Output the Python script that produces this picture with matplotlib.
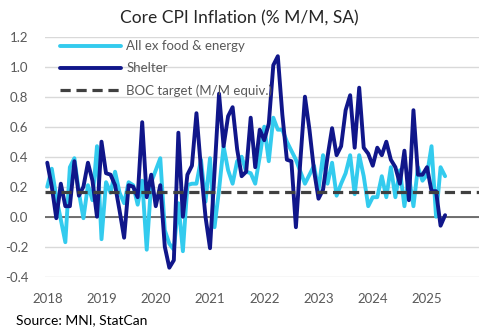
import numpy as np
import pandas as pd
import matplotlib
matplotlib.use("Agg")
import matplotlib.pyplot as plt

plt.rcParams['font.family'] = ['Lato', 'DejaVu Sans']

# Monthly data, Jan 2018 - May 2025 (% M/M, SA)
months = pd.date_range("2018-01-01", periods=89, freq="MS")

core_ex_fe = [0.20, 0.32, 0.13, -0.02, -0.17, 0.33, 0.39, 0.16, -0.01, 0.21, 0.11, 0.47,
              -0.15, 0.23, 0.16, 0.30, 0.16, 0.09, 0.23, 0.21, 0.08, 0.24, -0.22, 0.23,
              0.31, 0.39, -0.09, -0.18, -0.22, 0.09, -0.23, 0.21, 0.22, 0.22, 0.38, 0.10,
              0.39, -0.07, 0.18, 0.47, 0.31, 0.22, 0.37, 0.40, 0.30, 0.29, 0.22, 0.40,
              0.60, 0.37, 0.66, 0.58, 0.58, 0.50, 0.44, 0.38, 0.30, 0.22, 0.28, 0.34,
              0.18, 0.41, 0.22, 0.36, 0.14, 0.22, 0.29, 0.41, 0.15, 0.41, 0.27, 0.07,
              0.13, 0.13, 0.27, 0.13, 0.33, 0.13, 0.31, 0.07, 0.27, 0.07, 0.33, 0.24,
              0.28, 0.47, 0.00, 0.33, 0.27]

shelter = [0.36, 0.20, -0.01, 0.22, 0.07, 0.07, 0.37, 0.14, 0.20, 0.36, 0.24, 0.00,
           0.50, 0.29, 0.28, 0.21, 0.04, -0.14, 0.21, 0.20, 0.13, 0.63, 0.13, 0.28,
           0.07, 0.21, -0.20, -0.34, -0.29, 0.56, 0.00, 0.28, 0.34, 0.69, 0.32, 0.00,
           -0.21, 0.30, 0.82, 0.47, 0.67, 0.73, 0.45, 0.27, 0.30, 0.66, 0.33, 0.58,
           0.51, 0.62, 1.01, 1.07, 0.68, 0.38, 0.37, -0.07, 0.38, 0.80, 0.58, 0.31,
           0.12, 0.18, 0.40, 0.59, 0.41, 0.47, 0.71, 0.81, 0.46, 0.86, 0.46, 0.42,
           0.34, 0.46, 0.41, 0.50, 0.38, 0.33, 0.22, 0.44, 0.11, 0.71, 0.28, 0.28,
           0.33, 0.17, 0.17, -0.06, 0.01]

boc_target = 0.165  # 2% y/y expressed as a monthly rate

years = [2018, 2019, 2020, 2021, 2022, 2023, 2024, 2025]
y_ticks = [-0.4, -0.2, 0.0, 0.2, 0.4, 0.6, 0.8, 1.0, 1.2]

labels = ["All ex food & energy", "Shelter", "BOC target (M/M equiv.)"]

fig = plt.figure(figsize=(4.85, 3.31), dpi=100)
ax = fig.add_axes([45 / 485, 1 - 276.7 / 331, 434 / 485, 240 / 331])

x = np.arange(len(months))
ax.axhline(0, color='#595959', lw=1.2, zorder=2)
ax.plot(x, core_ex_fe, color='#33CBEE', lw=2.8, solid_joinstyle='round',
        solid_capstyle='round', label=labels[0], zorder=3)
ax.plot(x, shelter, color='#10168A', lw=2.8, solid_joinstyle='round',
        solid_capstyle='round', label=labels[1], zorder=4)
ax.axhline(boc_target, color='#404040', lw=2.3, ls=(0, (3.2, 1.8)),
           label=labels[2], zorder=5)

ax.set_xlim(-0.5, 95.5)
ax.set_ylim(-0.4, 1.2)
ax.set_yticks(y_ticks)
ax.set_yticklabels([f"{v:.1f}" for v in y_ticks])
ax.set_xticks([12 * k for k in range(len(years))])
ax.set_xticklabels([str(y) for y in years])
ax.grid(axis='y', color='#D9D9D9', lw=1.0, zorder=1)
ax.set_axisbelow(True)
for s in ax.spines.values():
    s.set_visible(False)
ax.tick_params(axis='both', length=0, labelsize=9.5, labelcolor='#595959')
ax.tick_params(axis='y', pad=12)
ax.tick_params(axis='x', pad=12)

ax.legend(loc='upper left', bbox_to_anchor=(0.035, 0.985), frameon=False,
          handlelength=4.6, fontsize=9.5, labelcolor='#595959',
          labelspacing=0.75, handletextpad=0.4, borderaxespad=0, borderpad=0)

fig.text(239.5 / 485, 1 - 18 / 331, "Core CPI Inflation (% M/M, SA)",
         ha='center', va='center', fontsize=12.5, color='#262626')
fig.text(16 / 485, 1 - 320 / 331, "Source: MNI, StatCan",
         ha='left', va='center', fontsize=10, color='black')

fig.savefig("out.png", dpi=100)
